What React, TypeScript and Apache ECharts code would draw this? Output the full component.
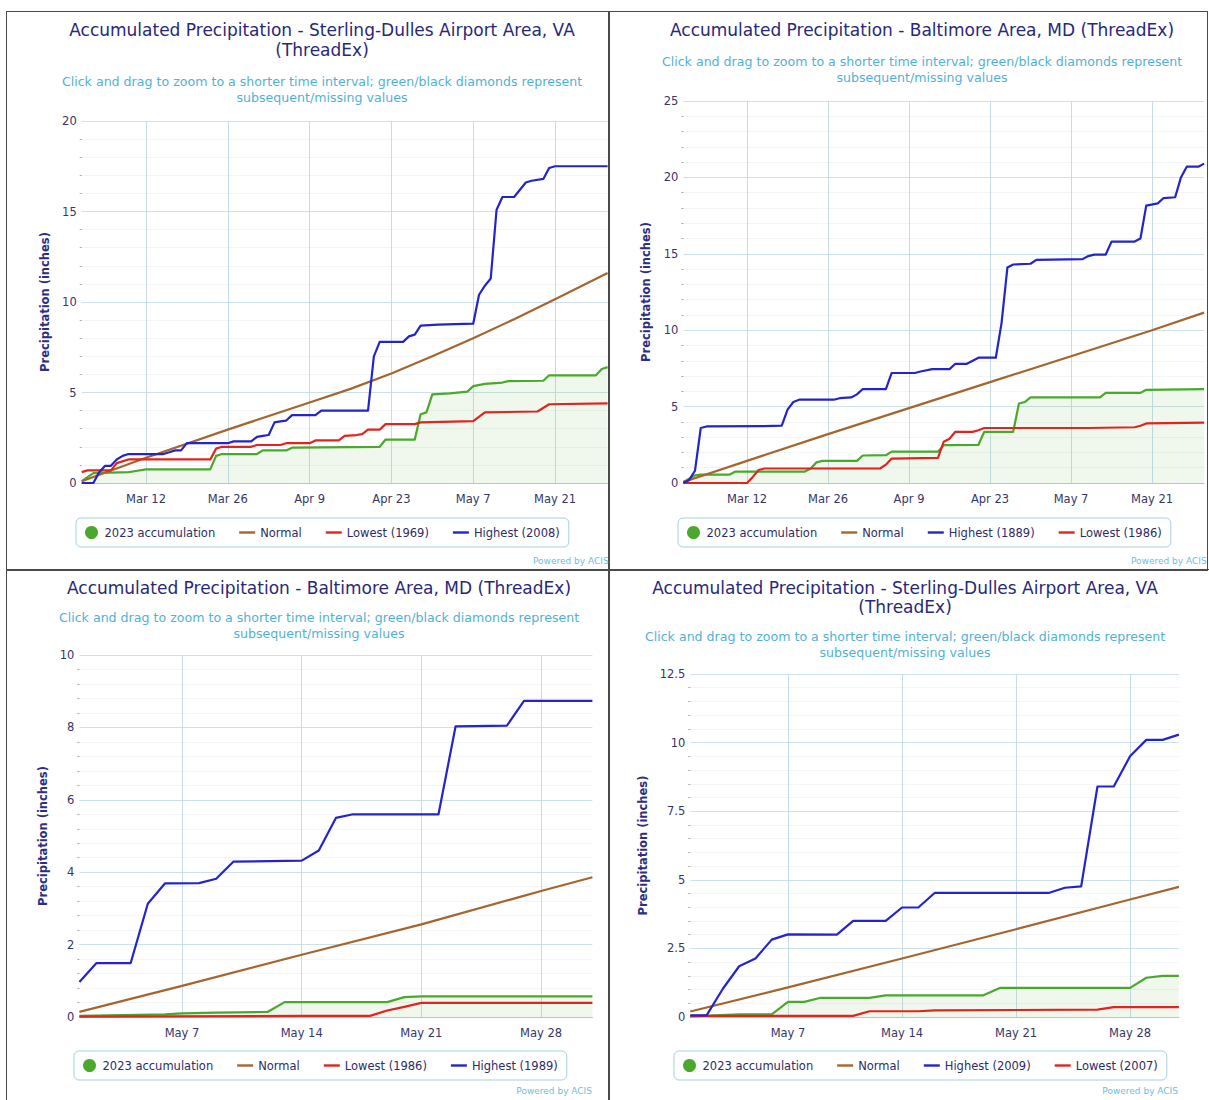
import React, { useEffect, useRef } from 'react';
import * as echarts from 'echarts';

const FONT = '"DejaVu Sans", Verdana, sans-serif';

// ---------- categories (one per day) and tick labels ----------
function dayCategories(sm: number, sd: number, em: number, ed: number): string[] {
  const out: string[] = [];
  const d = new Date(Date.UTC(2023, sm - 1, sd));
  const end = Date.UTC(2023, em - 1, ed);
  while (d.getTime() <= end) {
    out.push(`${d.getUTCMonth() + 1}/${d.getUTCDate()}`);
    d.setUTCDate(d.getUTCDate() + 1);
  }
  return out;
}
const springDays = dayCategories(3, 1, 5, 30);
const mayDays = dayCategories(5, 1, 5, 31);
const springTicks = ['3/12', '3/26', '4/9', '4/23', '5/7', '5/21'];
const mayTicks = ['5/7', '5/14', '5/21', '5/28'];
const MONTH_NAMES = ['Jan', 'Feb', 'Mar', 'Apr', 'May', 'Jun'];

const TITLE_DULLES = ['Accumulated Precipitation - Sterling-Dulles Airport Area, VA', '(ThreadEx)'];
const TITLE_BALT = ['Accumulated Precipitation - Baltimore Area, MD (ThreadEx)'];
const SUBTITLE = [
  'Click and drag to zoom to a shorter time interval; green/black diamonds represent',
  'subsequent/missing values',
];

// ---------- Panel 1: Sterling-Dulles, Mar 1 - May 30 ----------
const p1Accum2023: [string, number][] = [
  ['3/1', 0.1], ['3/3', 0.55], ['3/9', 0.6], ['3/10', 0.65], ['3/12', 0.75], ['3/23', 0.75], ['3/24', 1.5],
  ['3/25', 1.6], ['3/31', 1.6], ['4/1', 1.8], ['4/5', 1.8], ['4/6', 1.95], ['4/21', 2.0], ['4/22', 2.4],
  ['4/27', 2.4], ['4/28', 3.8], ['4/29', 3.9], ['4/30', 4.9], ['5/3', 4.95], ['5/6', 5.05], ['5/7', 5.35],
  ['5/9', 5.48], ['5/12', 5.55], ['5/13', 5.63], ['5/19', 5.65], ['5/20', 5.95], ['5/28', 5.95],
  ['5/29', 6.3], ['5/30', 6.4],
];
const p1Normal: [string, number][] = [
  ['3/1', 0.1], ['3/12', 1.4], ['3/26', 2.95], ['4/9', 4.45], ['4/16', 5.2], ['4/23', 6.05], ['4/30', 7.0],
  ['5/7', 8.0], ['5/14', 9.05], ['5/21', 10.15], ['5/30', 11.6],
];
const p1Lowest1969: [string, number][] = [
  ['3/1', 0.6], ['3/2', 0.7], ['3/6', 0.7], ['3/7', 1.1], ['3/9', 1.3], ['3/23', 1.3], ['3/24', 1.9], ['3/25', 2.0],
  ['3/30', 2.0], ['3/31', 2.1], ['4/4', 2.1], ['4/5', 2.2], ['4/9', 2.2], ['4/10', 2.35], ['4/14', 2.35],
  ['4/15', 2.6], ['4/17', 2.65], ['4/18', 2.7], ['4/19', 2.95], ['4/21', 2.95], ['4/22', 3.25], ['4/27', 3.25],
  ['4/28', 3.35], ['5/7', 3.42], ['5/9', 3.9], ['5/18', 3.95], ['5/20', 4.35], ['5/30', 4.4],
];
const p1Highest2008: [string, number][] = [
  ['3/1', 0], ['3/3', 0], ['3/4', 0.6], ['3/5', 0.95], ['3/6', 0.95], ['3/7', 1.3], ['3/8', 1.5], ['3/9', 1.6],
  ['3/15', 1.6], ['3/16', 1.7], ['3/17', 1.8], ['3/18', 1.8], ['3/19', 2.2], ['3/26', 2.2], ['3/27', 2.3],
  ['3/30', 2.3], ['3/31', 2.55], ['4/1', 2.6], ['4/2', 2.65], ['4/3', 3.35], ['4/4', 3.4], ['4/5', 3.45],
  ['4/6', 3.75], ['4/10', 3.75], ['4/11', 4.0], ['4/19', 4.0], ['4/20', 7.0], ['4/21', 7.8], ['4/25', 7.8],
  ['4/26', 8.1], ['4/27', 8.2], ['4/28', 8.7], ['5/1', 8.75], ['5/7', 8.8], ['5/8', 10.4], ['5/9', 10.9],
  ['5/10', 11.3], ['5/11', 15.1], ['5/12', 15.8], ['5/14', 15.8], ['5/15', 16.2], ['5/16', 16.6],
  ['5/17', 16.7], ['5/19', 16.8], ['5/20', 17.4], ['5/21', 17.5], ['5/30', 17.5],
];

// ---------- Panel 2: Baltimore, Mar 1 - May 30 ----------
const p2Accum2023: [string, number][] = [
  ['3/1', 0.07], ['3/3', 0.5], ['3/4', 0.55], ['3/9', 0.55], ['3/10', 0.75], ['3/22', 0.75], ['3/23', 0.95],
  ['3/24', 1.35], ['3/25', 1.45], ['3/31', 1.45], ['4/1', 1.8], ['4/5', 1.82], ['4/6', 2.05], ['4/14', 2.05],
  ['4/15', 2.48], ['4/21', 2.5], ['4/22', 3.35], ['4/27', 3.35], ['4/28', 5.2], ['4/29', 5.3], ['4/30', 5.6],
  ['5/12', 5.6], ['5/13', 5.9], ['5/19', 5.9], ['5/20', 6.1], ['5/30', 6.15],
];
const p2Normal: [string, number][] = [
  ['3/1', 0.07], ['3/12', 1.45], ['3/26', 3.2], ['4/9', 4.9], ['4/23', 6.6], ['5/7', 8.3], ['5/21', 10.0], ['5/30', 11.15],
];
const p2Highest1889: [string, number][] = [
  ['3/1', 0], ['3/2', 0.2], ['3/3', 0.8], ['3/4', 3.6], ['3/5', 3.7], ['3/15', 3.72], ['3/18', 3.75], ['3/19', 4.8],
  ['3/20', 5.3], ['3/21', 5.45], ['3/27', 5.45], ['3/28', 5.55], ['3/30', 5.6], ['3/31', 5.8], ['4/1', 6.15],
  ['4/5', 6.15], ['4/6', 7.2], ['4/10', 7.2], ['4/11', 7.3], ['4/13', 7.45], ['4/16', 7.45], ['4/17', 7.8],
  ['4/19', 7.8], ['4/20', 8.0], ['4/21', 8.2], ['4/24', 8.2], ['4/25', 10.5], ['4/26', 14.1], ['4/27', 14.3],
  ['4/30', 14.35], ['5/1', 14.6], ['5/9', 14.65], ['5/10', 14.85], ['5/11', 14.95], ['5/13', 14.95],
  ['5/14', 15.8], ['5/18', 15.8], ['5/19', 16.0], ['5/20', 18.15], ['5/22', 18.3], ['5/23', 18.65],
  ['5/25', 18.7], ['5/26', 20.0], ['5/27', 20.7], ['5/29', 20.7], ['5/30', 20.9],
];
const p2Lowest1986: [string, number][] = [
  ['3/1', 0], ['3/12', 0], ['3/13', 0.4], ['3/14', 0.85], ['3/15', 0.95], ['4/4', 0.95], ['4/5', 1.2], ['4/6', 1.6],
  ['4/14', 1.65], ['4/15', 2.7], ['4/16', 2.9], ['4/17', 3.35], ['4/20', 3.35], ['4/21', 3.45], ['4/22', 3.6],
  ['5/10', 3.6], ['5/18', 3.65], ['5/19', 3.75], ['5/20', 3.9], ['5/30', 3.95],
];

// ---------- Panel 3: Baltimore, May 1 - May 31 ----------
const p3Accum2023: [string, number][] = [
  ['5/1', 0.03], ['5/6', 0.07], ['5/7', 0.1], ['5/9', 0.12], ['5/12', 0.14], ['5/13', 0.41], ['5/19', 0.41],
  ['5/20', 0.55], ['5/21', 0.57], ['5/31', 0.57],
];
const p3Normal: [string, number][] = [
  ['5/1', 0.14], ['5/7', 0.86], ['5/14', 1.72], ['5/21', 2.56], ['5/28', 3.48], ['5/31', 3.86],
];
const p3Lowest1986: [string, number][] = [
  ['5/1', 0.01], ['5/14', 0.03], ['5/18', 0.03], ['5/19', 0.18], ['5/20', 0.28], ['5/21', 0.39], ['5/31', 0.39],
];
const p3Highest1989: [string, number][] = [
  ['5/1', 0.97], ['5/2', 1.49], ['5/4', 1.49], ['5/5', 3.13], ['5/6', 3.69], ['5/8', 3.7], ['5/9', 3.82],
  ['5/10', 4.29], ['5/14', 4.32], ['5/15', 4.6], ['5/16', 5.5], ['5/17', 5.6], ['5/22', 5.6], ['5/23', 8.03],
  ['5/26', 8.05], ['5/27', 8.73], ['5/31', 8.73],
];

// ---------- Panel 4: Sterling-Dulles, May 1 - May 31 ----------
const p4Accum2023: [string, number][] = [
  ['5/1', 0.02], ['5/4', 0.1], ['5/6', 0.1], ['5/7', 0.55], ['5/8', 0.55], ['5/9', 0.7], ['5/12', 0.7],
  ['5/13', 0.79], ['5/19', 0.79], ['5/20', 1.06], ['5/28', 1.06], ['5/29', 1.43], ['5/30', 1.5], ['5/31', 1.5],
];
const p4Normal: [string, number][] = [
  ['5/1', 0.2], ['5/7', 1.08], ['5/14', 2.13], ['5/21', 3.2], ['5/28', 4.28], ['5/31', 4.74],
];
const p4Highest2009: [string, number][] = [
  ['5/1', 0.06], ['5/2', 0.06], ['5/3', 1.03], ['5/4', 1.85], ['5/5', 2.13], ['5/6', 2.82], ['5/7', 3.01],
  ['5/10', 3.0], ['5/11', 3.5], ['5/13', 3.5], ['5/14', 3.99], ['5/15', 3.99], ['5/16', 4.52], ['5/23', 4.52],
  ['5/24', 4.71], ['5/25', 4.76], ['5/26', 8.4], ['5/27', 8.4], ['5/28', 9.5], ['5/29', 10.1], ['5/30', 10.1],
  ['5/31', 10.29],
];
const p4Lowest2007: [string, number][] = [
  ['5/1', 0.04], ['5/11', 0.04], ['5/12', 0.21], ['5/15', 0.21], ['5/16', 0.24], ['5/26', 0.27], ['5/27', 0.36],
  ['5/31', 0.36],
];

// ---------- styles ----------
const C_GREEN = '#4aa82c';
const C_BROWN = '#a5652f';
const C_RED = '#e3231d';
const C_BLUE = '#2424cc';
const AREA_FILL = 'rgba(90,175,60,0.13)';
const TITLE_COLOR = '#28287a';
const SUB_COLOR = '#4fb2d6';
const LABEL_COLOR = '#36366a';
const LEGEND_TEXT = '#2c2c6a';
const YNAME_COLOR = '#2e2e80';
const GRID_V = '#c6dde9';
const GRID_H = '#cde1ea';
const AXIS_LINE = '#9ccde2';
const LINE_ICON = 'path://M0,0 L16,0 L16,2.4 L0,2.4 Z';
const GREEN_NAME = '2023 accumulation';

type S = { name: string; data: [string, number][]; color: string; area?: boolean };
type Cfg = {
  box: { left: number; top: number; width: number; height: number };
  grid: { left: number; top: number; width: number; height: number };
  cats: string[];
  ticks: string[];
  yMax: number;
  yInterval: number;
  yNameGap: number;
  centerX: number;
  title: string[];
  titleY: number[];
  subY: number[];
  legendLeft: number;
  legendTop: number;
  legendOrder: string[];
  powered: { x: number; y: number; align: string };
  series: S[];
};

const fmtDate = (v: string) => {
  const [m, d] = v.split('/');
  return `${MONTH_NAMES[Number(m) - 1]} ${d}`;
};

const panels: Cfg[] = [
  {
    box: { left: 7, top: 12, width: 602, height: 558 },
    grid: { left: 74.7, top: 109, width: 525.9, height: 362 },
    cats: springDays, ticks: springTicks, yMax: 20, yInterval: 5, yNameGap: 30,
    centerX: 315, title: TITLE_DULLES, titleY: [18, 38], subY: [69, 85],
    legendLeft: 69, legendTop: 506,
    legendOrder: [GREEN_NAME, 'Normal', 'Lowest (1969)', 'Highest (2008)'],
    powered: { x: 526, y: 549, align: 'left' },
    series: [
      { name: GREEN_NAME, data: p1Accum2023, color: C_GREEN, area: true },
      { name: 'Normal', data: p1Normal, color: C_BROWN },
      { name: 'Lowest (1969)', data: p1Lowest1969, color: C_RED },
      { name: 'Highest (2008)', data: p1Highest2008, color: C_BLUE },
    ],
  },
  {
    box: { left: 609, top: 12, width: 598, height: 558 },
    grid: { left: 74.4, top: 89, width: 520.7, height: 382 },
    cats: springDays, ticks: springTicks, yMax: 25, yInterval: 5, yNameGap: 31,
    centerX: 313, title: TITLE_BALT, titleY: [18], subY: [49, 65],
    legendLeft: 69, legendTop: 506,
    legendOrder: [GREEN_NAME, 'Normal', 'Highest (1889)', 'Lowest (1986)'],
    powered: { x: 522, y: 549, align: 'left' },
    series: [
      { name: GREEN_NAME, data: p2Accum2023, color: C_GREEN, area: true },
      { name: 'Normal', data: p2Normal, color: C_BROWN },
      { name: 'Lowest (1986)', data: p2Lowest1986, color: C_RED },
      { name: 'Highest (1889)', data: p2Highest1889, color: C_BLUE },
    ],
  },
  {
    box: { left: 7, top: 570, width: 602, height: 530 },
    grid: { left: 72.4, top: 85, width: 513, height: 362 },
    cats: mayDays, ticks: mayTicks, yMax: 10, yInterval: 2, yNameGap: 29,
    centerX: 312, title: TITLE_BALT, titleY: [18], subY: [47, 63],
    legendLeft: 67, legendTop: 481,
    legendOrder: [GREEN_NAME, 'Normal', 'Lowest (1986)', 'Highest (1989)'],
    powered: { x: 585, y: 521, align: 'right' },
    series: [
      { name: GREEN_NAME, data: p3Accum2023, color: C_GREEN, area: true },
      { name: 'Normal', data: p3Normal, color: C_BROWN },
      { name: 'Lowest (1986)', data: p3Lowest1986, color: C_RED },
      { name: 'Highest (1989)', data: p3Highest1989, color: C_BLUE },
    ],
  },
  {
    box: { left: 609, top: 570, width: 600, height: 530 },
    grid: { left: 81.3, top: 104, width: 488.6, height: 343 },
    cats: mayDays, ticks: mayTicks, yMax: 12.5, yInterval: 2.5, yNameGap: 39,
    centerX: 296, title: TITLE_DULLES, titleY: [18, 37], subY: [66, 82],
    legendLeft: 65, legendTop: 481,
    legendOrder: [GREEN_NAME, 'Normal', 'Highest (2009)', 'Lowest (2007)'],
    powered: { x: 569, y: 521, align: 'right' },
    series: [
      { name: GREEN_NAME, data: p4Accum2023, color: C_GREEN, area: true },
      { name: 'Normal', data: p4Normal, color: C_BROWN },
      { name: 'Lowest (2007)', data: p4Lowest2007, color: C_RED },
      { name: 'Highest (2009)', data: p4Highest2009, color: C_BLUE },
    ],
  },
];

function textEl(t: string, x: number, y: number, fill: string, size: number, align = 'center') {
  return {
    type: 'text', x, y, silent: true,
    style: {
      text: t, fill, fontSize: size, fontFamily: FONT,
      textAlign: align, align, textVerticalAlign: 'middle', verticalAlign: 'middle',
    },
  };
}

function buildOption(c: Cfg) {
  const showTick = (_i: number, v: string) => c.ticks.includes(v);
  return {
    animation: false,
    textStyle: { fontFamily: FONT },
    grid: { ...c.grid, containLabel: false },
    xAxis: {
      type: 'category', data: c.cats, boundaryGap: false,
      axisLine: { lineStyle: { color: AXIS_LINE, width: 1.2 } },
      axisTick: { show: false },
      axisLabel: { interval: showTick, formatter: fmtDate, color: LABEL_COLOR, fontSize: 11.5, margin: 10, fontFamily: FONT },
      splitLine: { show: true, interval: showTick, lineStyle: { color: GRID_V, width: 1 } },
    },
    yAxis: {
      type: 'value', min: 0, max: c.yMax, interval: c.yInterval,
      name: 'Precipitation (inches)', nameLocation: 'middle', nameGap: c.yNameGap,
      nameTextStyle: { color: YNAME_COLOR, fontWeight: 'bold', fontSize: 11.5, fontFamily: FONT },
      axisLine: { show: false },
      axisTick: { show: false },
      minorTick: { show: true, splitNumber: 5, length: 2, lineStyle: { color: '#a8a8a8', width: 1 } },
      minorSplitLine: { show: true, lineStyle: { color: '#f2f4f5', width: 1 } },
      splitLine: { show: true, lineStyle: { color: GRID_H, width: 1 } },
      axisLabel: { color: LABEL_COLOR, fontSize: 11.5, margin: 5, fontFamily: FONT },
    },
    legend: {
      left: c.legendLeft, top: c.legendTop, orient: 'horizontal',
      itemWidth: 16, itemHeight: 13, itemGap: 24, padding: [8, 9],
      borderColor: '#a7cfdf', borderWidth: 1, borderRadius: 5,
      selectedMode: false,
      textStyle: { color: LEGEND_TEXT, fontSize: 11.5, fontFamily: FONT },
      data: c.legendOrder.map((n) => (n === GREEN_NAME ? { name: n, icon: 'circle' } : { name: n, icon: LINE_ICON })),
    },
    graphic: [
      ...c.title.map((t, i) => textEl(t, c.centerX, c.titleY[i], TITLE_COLOR, 17)),
      ...SUBTITLE.map((t, i) => textEl(t, c.centerX, c.subY[i], SUB_COLOR, 12.6)),
      textEl('Powered by ACIS', c.powered.x, c.powered.y, '#6cc0e0', 9, c.powered.align),
    ],
    series: c.series.map((s) => ({
      name: s.name, type: 'line', data: s.data, symbol: 'none', showSymbol: false, silent: true,
      lineStyle: { color: s.color, width: 2.2, join: 'round' }, itemStyle: { color: s.color },
      areaStyle: s.area ? { color: AREA_FILL } : undefined,
    })),
  };
}

function Panel({ cfg }: { cfg: Cfg }) {
  const ref = useRef<HTMLDivElement>(null);
  useEffect(() => {
    if (!ref.current) return;
    const chart = echarts.init(ref.current, null, { renderer: 'svg' });
    chart.setOption(buildOption(cfg) as any);
    return () => chart.dispose();
  }, [cfg]);
  return (
    <div
      ref={ref}
      style={{ position: 'absolute', left: cfg.box.left, top: cfg.box.top, width: cfg.box.width, height: cfg.box.height }}
    />
  );
}

export default function App() {
  return (
    <div style={{ position: 'absolute', left: 0, top: 0, width: 1209, height: 1100, background: '#fff', overflow: 'hidden' }}>
      {panels.map((p, i) => (
        <div
          key={'b' + i}
          style={{
            position: 'absolute', left: p.box.left - 1, top: p.box.top - 1,
            width: p.box.width + 2, height: p.box.height + 2,
            border: '1.5px solid #4a4a4a', boxSizing: 'border-box',
          }}
        />
      ))}
      {panels.map((p, i) => (
        <Panel key={i} cfg={p} />
      ))}
    </div>
  );
}
